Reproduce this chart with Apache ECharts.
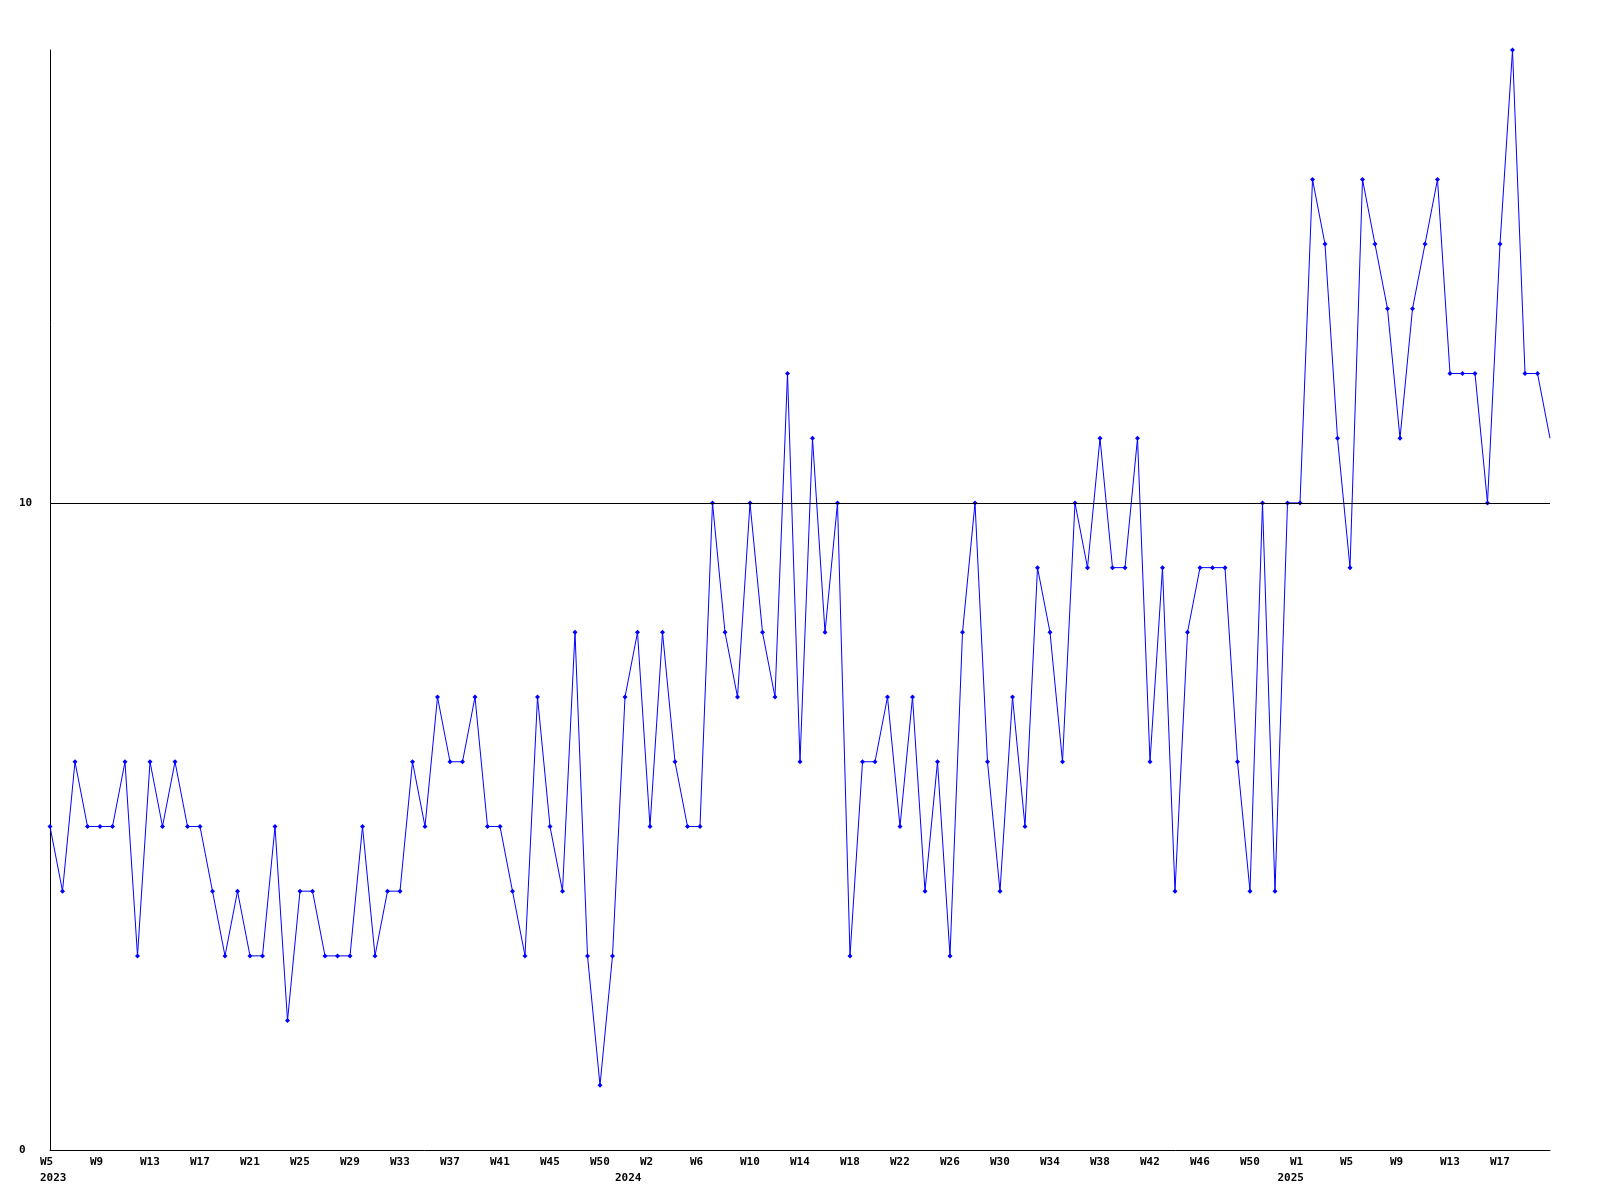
<!DOCTYPE html>
<html>
<head>
<meta charset="utf-8">
<script src="https://cdn.jsdelivr.net/npm/echarts@6/dist/echarts.min.js"></script>
<style>
html,body{margin:0;padding:0;background:#fff;}
#chart{width:1600px;height:1200px;}
</style>
</head>
<body>
<div id="chart"></div>
<script>
// Weekly values: 2023 W5 .. 2025 W21
const values2023 = [5,4,6,5,5,5,6,3,6,5,6,5,5,4,3,4,3,3,5,2,4,4,3,3,3,5,3,4,4,6,5,7,6,6,7,5,5,4,3,7,5,4,8,3,1,3,7,8];
const values2024 = [5,8,6,5,5,10,8,7,10,8,7,12,6,11,8,10,3,6,6,7,5,7,4,6,3,8,10,6,4,7,5,9,8,6,10,9,11,9,9,11,6,9,4,8,9,9,9,6,4,10,4,10];
const values2025 = [10,15,14,11,9,15,14,13,11,13,14,15,12,12,12,10,14,17,12,12,11];

// Week ranges per year (first week, last week)
const years = [2023, 2024, 2025];
const weekRanges = [[5, 52], [1, 52], [1, 21]];

// Tick labels (every 4th category)
const weekTickLabels = ['W5','W9','W13','W17','W21','W25','W29','W33','W37','W41','W45','W50',
  'W2','W6','W10','W14','W18','W22','W26','W30','W34','W38','W42','W46','W50',
  'W1','W5','W9','W13','W17'];
const tickStep = 4;
const yearLabels = ['2023','2024','2025'];
const yearLabelIndex = [0, 46, 99];
const yTickLabels = {0: '0', 10: '10'};

// Build categories
const categories = [];
years.forEach((y, k) => {
  for (let w = weekRanges[k][0]; w <= weekRanges[k][1]; w++) categories.push(y + '-W' + w);
});
const allValues = values2023.concat(values2024, values2025);
const seriesData = allValues.map((v, i) => i === allValues.length - 1 ? {value: v, symbol: 'none'} : v);

const font = {fontFamily: 'DejaVu Sans Mono', fontWeight: 'bold', fontSize: 11, color: '#000'};

const chart = echarts.init(document.getElementById('chart'), null, {renderer: 'canvas'});
chart.setOption({
  animation: false,
  backgroundColor: '#fff',
  grid: {left: 50, right: 50, top: 50, bottom: 50, containLabel: false},
  xAxis: [{
    type: 'category',
    data: categories,
    boundaryGap: false,
    axisLine: {lineStyle: {color: '#000', width: 1}},
    axisTick: {show: false},
    splitLine: {show: false},
    axisLabel: Object.assign({}, font, {
      interval: tickStep - 1,
      align: 'left',
      margin: 7,
      padding: [0, 0, 0, -10],
      formatter: (val, idx) => (idx % tickStep === 0 ? (weekTickLabels[idx / tickStep] || '') : '')
    })
  }, {
    type: 'category',
    data: categories,
    boundaryGap: false,
    position: 'bottom',
    offset: 16,
    axisLine: {show: false},
    axisTick: {show: false},
    splitLine: {show: false},
    axisLabel: Object.assign({}, font, {
      interval: (idx) => yearLabelIndex.indexOf(idx) >= 0,
      align: 'left',
      margin: 7,
      padding: [0, 0, 0, -10],
      formatter: (val, idx) => {
        const k = yearLabelIndex.indexOf(idx);
        return k >= 0 ? yearLabels[k] : '';
      }
    })
  }],
  yAxis: {
    type: 'value',
    min: 0,
    max: 17,
    interval: 10,
    axisLine: {show: true, lineStyle: {color: '#000', width: 1}},
    axisTick: {show: false},
    splitLine: {show: false},
    axisLabel: Object.assign({}, font, {
      align: 'left',
      margin: 31,
      showMaxLabel: false,
      formatter: (v) => (yTickLabels[v] !== undefined ? yTickLabels[v] : '')
    })
  },
  series: [{
    type: 'line',
    xAxisIndex: 0,
    data: seriesData,
    symbol: 'diamond',
    symbolSize: 5,
    showAllSymbol: true,
    lineStyle: {color: '#0000ff', width: 1},
    itemStyle: {color: '#0000ff'},
    markLine: {
      silent: true,
      symbol: 'none',
      label: {show: false},
      lineStyle: {color: '#000', width: 1, type: 'solid'},
      data: [{yAxis: 10}]
    },
    z: 3
  }]
});
</script>
</body>
</html>
